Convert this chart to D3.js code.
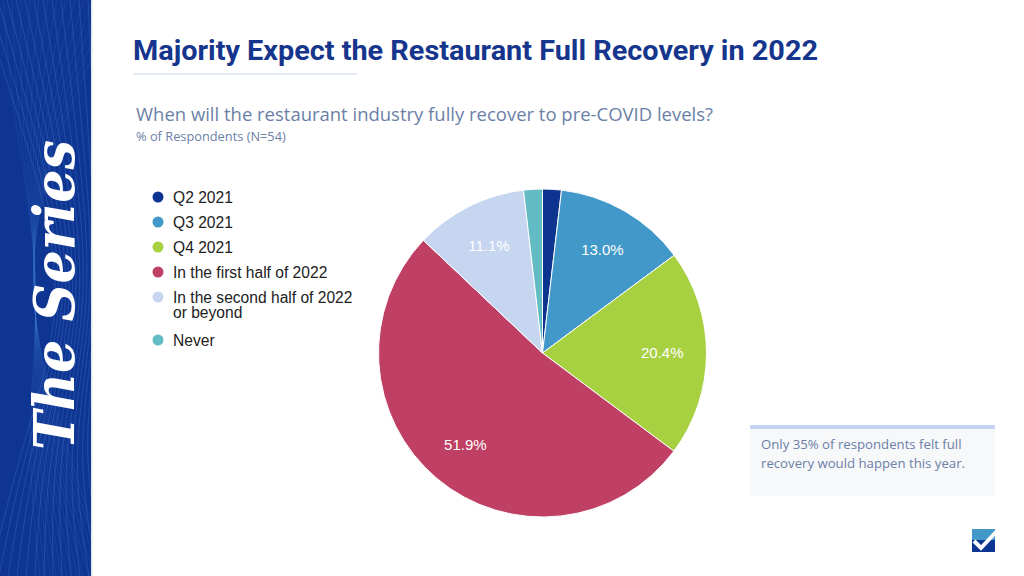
<!DOCTYPE html>
<html><head><meta charset="utf-8">
<script src="https://cdn.jsdelivr.net/npm/d3@7"></script>
<style>body{margin:0;background:#fff}svg{display:block}</style>
</head><body>
<script>
const categories = ["Q2 2021","Q3 2021","Q4 2021","In the first half of 2022","In the second half of 2022 or beyond","Never"];
const values = [1.85, 13.0, 20.4, 51.9, 11.1, 1.85];
const labels = ["", "13.0%", "20.4%", "51.9%", "11.1%", ""];
const colors = ["#0d3590","#4299c9","#a8d142","#bf4064","#c6d5f0","#63bcc4"];
const legendLines = [["Q2 2021"],["Q3 2021"],["Q4 2021"],["In the first half of 2022"],["In the second half of 2022","or beyond"],["Never"]];

const W=1024,H=576;
const svg=d3.select("body").append("svg").attr("width",W).attr("height",H);
svg.append("defs").append("clipPath").attr("id","bc").append("rect").attr("width",91).attr("height",H);

// left banner
const ban=svg.append("g").attr("clip-path","url(#bc)");
ban.append("rect").attr("x",0).attr("y",0).attr("width",91).attr("height",H).attr("fill","#0f3592");
const bl=d3.line().curve(d3.curveBasis);
for(let i=0;i<14;i++){
  const o=i*9;
  ban.append("path").attr("d",bl([[-20+o,0],[30+o*0.6,150],[70+o*0.3,300],[20+o*0.5,450],[-10+o,576]]))
    .attr("fill","none").attr("stroke","#4d8ad6").attr("stroke-opacity",0.35).attr("stroke-width",0.8);
  ban.append("path").attr("d",bl([[120-o,0],[60-o*0.4,120],[20+o*0.2,280],[60-o*0.3,430],[110-o*0.6,576]]))
    .attr("fill","none").attr("stroke","#3e7fd0").attr("stroke-opacity",0.25).attr("stroke-width",0.7);
}
svg.append("rect").attr("x",91).attr("y",0).attr("width",1.5).attr("height",H).attr("fill","#dfe6f3");
svg.append("text").attr("transform","translate(74,295) rotate(-90)")
  .attr("text-anchor","middle").attr("fill","#fff")
  .attr("font-family","DejaVu Serif").attr("font-style","italic").attr("font-weight",700).attr("font-size",56)
  .attr("textLength",310).attr("lengthAdjust","spacingAndGlyphs")
  .text("The Series");

// title
svg.append("text").attr("x",133).attr("y",60).attr("fill","#16358c")
  .attr("font-family","Roboto").attr("font-weight",700).attr("font-size",27)
  .attr("textLength",685).attr("lengthAdjust","spacingAndGlyphs")
  .text("Majority Expect the Restaurant Full Recovery in 2022");
svg.append("line").attr("x1",133).attr("x2",357).attr("y1",74).attr("y2",74).attr("stroke","#c9d6ee").attr("stroke-width",1.2);
svg.append("text").attr("x",136).attr("y",121).attr("fill","#6b7fa6")
  .attr("font-family","Open Sans").attr("font-size",17.5).attr("textLength",577).attr("lengthAdjust","spacingAndGlyphs")
  .text("When will the restaurant industry fully recover to pre-COVID levels?");
svg.append("text").attr("x",136).attr("y",141).attr("fill","#6b7fa6")
  .attr("font-family","Open Sans").attr("font-size",12.8)
  .text("% of Respondents (N=54)");

// legend
const rowY=[197,222,247,272,297,340];
const lg=svg.append("g");
legendLines.forEach((ls,i)=>{
  lg.append("circle").attr("cx",158).attr("cy",rowY[i]).attr("r",5.5).attr("fill",colors[i]);
  ls.forEach((t,j)=>{
    lg.append("text").attr("x",173).attr("y",rowY[i]+5.5+j*15.5).attr("fill","#222")
      .attr("font-family","Liberation Sans, Arial").attr("font-size",15.6).text(t);
  });
});

// pie
const cx=542.5, cy=353, R=164;
const pie=d3.pie().sort(null).value(d=>d)(values);
const arc=d3.arc().innerRadius(0).outerRadius(R);
const larc=d3.arc().innerRadius(R*0.73).outerRadius(R*0.73);
const pg=svg.append("g").attr("transform",`translate(${cx},${cy})`);
pg.selectAll("path").data(pie).join("path").attr("d",arc)
  .attr("fill",(d,i)=>colors[i]).attr("stroke","#fff").attr("stroke-width",1);
pg.selectAll("text").data(pie).join("text")
  .attr("transform",d=>`translate(${larc.centroid(d)})`)
  .attr("text-anchor","middle").attr("dy","0.35em").attr("fill","#fff")
  .attr("font-family","Liberation Sans, Arial").attr("font-size",15)
  .text((d,i)=>labels[i]);

// callout
svg.append("rect").attr("x",750).attr("y",425).attr("width",245).attr("height",71).attr("fill","#f7f8fa");
svg.append("rect").attr("x",750).attr("y",425).attr("width",245).attr("height",4).attr("fill","#c5d3f0");
["Only 35% of respondents felt full","recovery would happen this year."].forEach((t,i)=>{
  svg.append("text").attr("x",761).attr("y",449+i*19).attr("fill","#6b7fa6")
    .attr("font-family","Open Sans").attr("font-size",13.2).text(t);
});

// logo
const lo=svg.append("g").attr("transform","translate(972,529)");
lo.append("rect").attr("width",23).attr("height",23).attr("fill","#4299c9");
lo.append("path").attr("d","M0,11 L23,11 L23,23 L0,23Z").attr("fill","#0f3592");
lo.append("path").attr("d","M2,12 L9,19 L24,3").attr("fill","none").attr("stroke","#fff").attr("stroke-width",4);
</script>
</body></html>
